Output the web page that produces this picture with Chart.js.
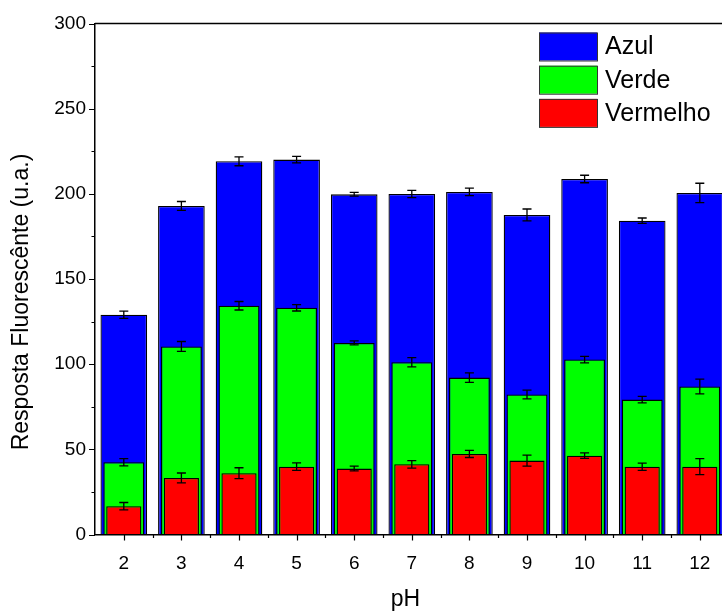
<!DOCTYPE html>
<html>
<head>
<meta charset="utf-8">
<script src="https://cdn.jsdelivr.net/npm/chart.js@4/dist/chart.umd.min.js"></script>
<style>
  html, body { margin: 0; padding: 0; background: #fff; overflow: hidden; width: 722px; height: 612px; }
  #wrap { position: absolute; left: 0; top: 0; width: 760px; height: 612px; }
</style>
</head>
<body>
<div id="wrap"><canvas id="c" width="760" height="612"></canvas></div>
<script>
const categories = ['2', '3', '4', '5', '6', '7', '8', '9', '10', '11', '12'];
const azul        = [129.0, 192.9, 219.1, 220.1, 199.7, 199.9, 201.1, 187.6, 208.7, 184.2, 200.5];
const azulErr     = [2.1, 2.6, 2.6, 1.9, 1.1, 2.1, 2.2, 3.5, 2.2, 1.6, 5.7];
const verde       = [42.4, 110.4, 134.3, 133.1, 112.5, 101.1, 92.1, 82.2, 102.7, 79.2, 86.9];
const verdeErr    = [2.1, 2.9, 2.5, 1.9, 1.2, 2.7, 2.8, 2.6, 1.9, 1.9, 4.3];
const vermelho    = [16.6, 33.2, 36.0, 39.8, 38.7, 41.2, 47.3, 43.4, 46.3, 39.8, 39.8];
const vermelhoErr = [2.2, 2.9, 3.2, 2.2, 1.4, 2.2, 2.1, 3.2, 1.6, 2.1, 4.7];
const yTicks = [0, 50, 100, 150, 200, 250, 300];
const yTitle = 'Resposta Fluorescênte (u.a.)';
const xTitle = 'pH';

const FONT = "'Liberation Sans', Arial, sans-serif";

const errorBars = {
  id: 'errorBars',
  afterDatasetDraw(chart, args) {
    const ds = chart.data.datasets[args.index];
    const errs = ds.errors;
    if (!errs) return;
    const ys = chart.scales.y;
    const ctx = chart.ctx;
    ctx.save();
    ctx.strokeStyle = '#000';
    ctx.lineWidth = 1.3;
    args.meta.data.forEach((el, i) => {
      const v = ds.data[i], e = errs[i];
      const x = el.x;
      const y1 = ys.getPixelForValue(v + e);
      const y2 = ys.getPixelForValue(v - e);
      ctx.beginPath();
      ctx.moveTo(x, y1); ctx.lineTo(x, y2);
      ctx.moveTo(x - 4.5, y1); ctx.lineTo(x + 4.5, y1);
      ctx.moveTo(x - 4.5, y2); ctx.lineTo(x + 4.5, y2);
      ctx.stroke();
    });
    ctx.restore();
  }
};

const frame = {
  id: 'frame',
  afterDraw(chart) {
    const ctx = chart.ctx;
    const {left, right, top, bottom} = chart.chartArea;
    const xs = chart.scales.x, ys = chart.scales.y;
    ctx.save();
    ctx.strokeStyle = '#000';
    ctx.lineWidth = 1.5;
    ctx.beginPath();
    ctx.moveTo(left, top); ctx.lineTo(right + 2, top);
    ctx.stroke();
    ctx.lineWidth = 1.2;
    ctx.beginPath();
    for (let v = 0; v <= 300; v += 25) {
      const y = Math.round(ys.getPixelForValue(v)) + 0.5;
      const len = (v % 50 === 0) ? 6 : 3.5;
      ctx.moveTo(left, y); ctx.lineTo(left - len, y);
    }
    const n = categories.length;
    for (let i = 0; i < n; i++) {
      const x = Math.round(xs.getPixelForValue(i)) + 0.5;
      ctx.moveTo(x, bottom); ctx.lineTo(x, bottom + 6);
      if (i < n - 1) {
        const xm = Math.round((xs.getPixelForValue(i) + xs.getPixelForValue(i + 1)) / 2) + 0.5;
        ctx.moveTo(xm, bottom); ctx.lineTo(xm, bottom + 3.5);
      }
    }
    ctx.stroke();

    // axis titles
    ctx.fillStyle = '#000';
    ctx.textAlign = 'center';
    ctx.textBaseline = 'middle';
    ctx.font = '23px ' + FONT;
    ctx.fillText(xTitle, (left + 722) / 2 - 3, 600);
    ctx.save();
    ctx.translate(22, 302);
    ctx.rotate(-Math.PI / 2);
    ctx.fillText(yTitle, 0, 0);
    ctx.restore();

    // legend
    const items = chart.data.datasets;
    const bx = 539, bw = 58, bh = 28, gap = 33.2;
    let by = 32.5;
    ctx.font = '25px ' + FONT;
    ctx.textBaseline = 'middle';
    ctx.textAlign = 'left';
    items.forEach((ds) => {
      ctx.fillStyle = ds.backgroundColor;
      ctx.fillRect(bx, by, bw, bh);
      ctx.lineWidth = 1;
      ctx.strokeStyle = '#333';
      ctx.strokeRect(bx + 0.5, by + 0.5, bw, bh);
      ctx.fillStyle = '#000';
      ctx.fillText(ds.label, bx + bw + 8, by + bh / 2 + 1);
      by += gap;
    });
    ctx.restore();
  }
};

new Chart(document.getElementById('c'), {
  type: 'bar',
  data: {
    labels: categories,
    datasets: [
      { label: 'Azul', data: azul, errors: azulErr, backgroundColor: '#0000FF', borderColor: '#000', borderWidth: 1.3, barPercentage: 0.81, categoryPercentage: 1, order: 3 },
      { label: 'Verde', data: verde, errors: verdeErr, backgroundColor: '#00FF00', borderColor: '#000', borderWidth: 1.3, barPercentage: 0.71, categoryPercentage: 1, order: 2 },
      { label: 'Vermelho', data: vermelho, errors: vermelhoErr, backgroundColor: '#FF0000', borderColor: '#000', borderWidth: 1.3, barPercentage: 0.61, categoryPercentage: 1, order: 1 }
    ]
  },
  options: {
    responsive: false,
    animation: false,
    devicePixelRatio: 1,
    layout: { padding: { left: 0, top: 23.5, right: 31.4, bottom: 0 } },
    datasets: { bar: { grouped: false } },
    plugins: { legend: { display: false }, tooltip: { enabled: false } },
    scales: {
      x: {
        offset: true,
        grid: { display: true, drawOnChartArea: false, drawTicks: false, color: 'rgba(0,0,0,0)' },
        border: { display: true, color: '#000', width: 1.5 },
        ticks: { color: '#000', font: { family: FONT, size: 19 }, padding: 18, maxRotation: 0, autoSkip: false },
        afterFit(s) { s.height = 612 - 534.5; }
      },
      y: {
        min: 0, max: 300,
        afterBuildTicks(s) { s.ticks = yTicks.map(v => ({ value: v })); },
        grid: { display: true, drawOnChartArea: false, drawTicks: false, color: 'rgba(0,0,0,0)' },
        border: { display: true, color: '#000', width: 1.5 },
        ticks: { color: '#000', font: { family: FONT, size: 19 }, padding: 9 },
        afterFit(s) { s.width = 95; }
      }
    }
  },
  plugins: [errorBars, frame]
});
</script>
</body>
</html>
